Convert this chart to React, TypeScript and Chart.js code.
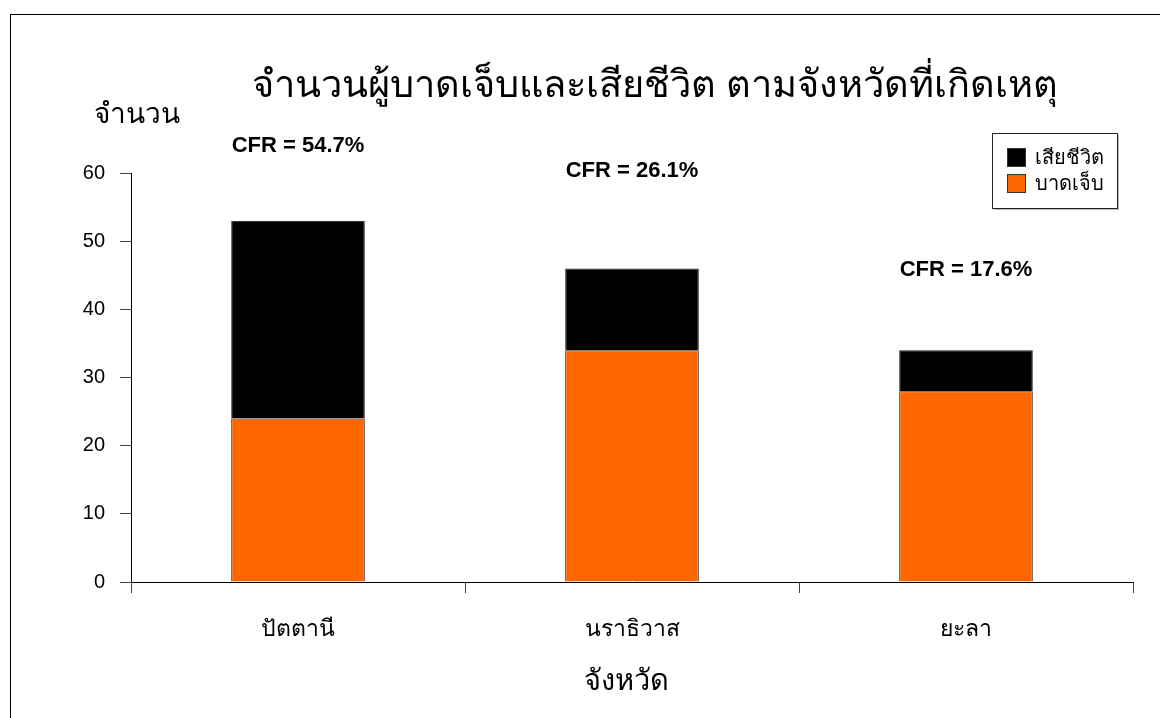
import React, { useEffect, useRef } from "react";
import { Chart, registerables } from "chart.js";

Chart.register(...registerables);

const categories = ["ปัตตานี", "นราธิวาส", "ยะลา"];
const injured = [24, 34, 28];
const deaths = [29, 12, 6];
const cfrLabelAt = [64, 60.3, 45.8];
const yTicks = [0, 10, 20, 30, 40, 50, 60];

const titleText = "จำนวนผู้บาดเจ็บและเสียชีวิต ตามจังหวัดที่เกิดเหตุ";
const yTitleText = "จำนวน";
const xTitleText = "จังหวัด";

const FONT = "'Liberation Sans', Arial, 'Noto Sans', 'DejaVu Sans', sans-serif";

const decorPlugin = {
  id: "decor",
  afterDraw(chart: any) {
    const ctx = chart.ctx;
    const xs = chart.scales.x;
    const ys = chart.scales.y;
    ctx.save();
    // outer frame
    ctx.strokeStyle = "#000";
    ctx.lineWidth = 1;
    ctx.strokeRect(10.5, 14.5, 1300, 900);
    // title
    ctx.fillStyle = "#000";
    ctx.textAlign = "center";
    ctx.textBaseline = "alphabetic";
    ctx.font = `38px ${FONT}`;
    ctx.fillText(titleText, 655, 97);
    // y title
    ctx.textAlign = "left";
    ctx.font = `28px ${FONT}`;
    ctx.fillText(yTitleText, 94, 123);
    // x title
    ctx.textAlign = "center";
    ctx.font = `29px ${FONT}`;
    ctx.fillText(xTitleText, 626, 690);
    // CFR labels
    ctx.font = `bold 22px ${FONT}`;
    ctx.textBaseline = "middle";
    categories.forEach((c, i) => {
      const total = injured[i] + deaths[i];
      const cfr = ((deaths[i] / total) * 100).toFixed(1);
      const x = xs.getPixelForValue(i);
      const y = ys.getPixelForValue(cfrLabelAt[i]);
      ctx.fillText(`CFR = ${cfr}%`, x, y);
    });
    // legend
    const lx = 992, ly = 133, lw = 125, lh = 75;
    ctx.fillStyle = "#bbb";
    ctx.fillRect(lx + 2, ly + 2, lw, lh);
    ctx.fillStyle = "#fff";
    ctx.fillRect(lx, ly, lw, lh);
    ctx.strokeStyle = "#222";
    ctx.strokeRect(lx + 0.5, ly + 0.5, lw, lh);
    const items = [chart.data.datasets[1], chart.data.datasets[0]];
    ctx.textAlign = "left";
    ctx.textBaseline = "middle";
    ctx.font = `20px ${FONT}`;
    items.forEach((ds: any, i: number) => {
      const sy = 148 + i * 26;
      ctx.fillStyle = ds.backgroundColor;
      ctx.fillRect(1007, sy, 19, 19);
      ctx.strokeStyle = "#333";
      ctx.strokeRect(1007.5, sy + 0.5, 18, 18);
      ctx.fillStyle = "#000";
      ctx.fillText(ds.label, 1035, sy + 10);
    });
    ctx.restore();
  },
};

export default function App() {
  const ref = useRef<HTMLCanvasElement | null>(null);
  useEffect(() => {
    if (!ref.current) return;
    const chart = new Chart(ref.current, {
      type: "bar",
      data: {
        labels: categories,
        datasets: [
          {
            label: "บาดเจ็บ",
            data: injured,
            backgroundColor: "#FF6600",
            borderColor: "#222",
            borderWidth: 1,
            barPercentage: 0.8,
            categoryPercentage: 0.5,
          },
          {
            label: "เสียชีวิต",
            data: deaths,
            backgroundColor: "#000000",
            borderColor: "#222",
            borderWidth: 1,
            barPercentage: 0.8,
            categoryPercentage: 0.5,
          },
        ],
      },
      options: {
        responsive: false,
        animation: false,
        devicePixelRatio: 1,
        layout: { padding: { left: 0, right: 27, top: 173, bottom: 0 } },
        plugins: {
          legend: { display: false },
          title: { display: false },
          tooltip: { enabled: false },
        },
        scales: {
          x: {
            stacked: true,
            offset: true,
            grid: {
              offset: true,
              drawOnChartArea: false,
              drawTicks: true,
              tickLength: 11,
              color: "#444",
            },
            border: { display: true, color: "#000", width: 1 },
            ticks: {
              color: "#000",
              font: { family: FONT, size: 23 },
              padding: 23,
            },
            afterFit(scale: any) {
              scale.height = 718 - 582;
            },
          },
          y: {
            stacked: true,
            min: 0,
            max: 60,
            afterBuildTicks(scale: any) {
              scale.ticks = yTicks.map((v) => ({ value: v }));
            },
            grid: {
              drawOnChartArea: false,
              drawTicks: true,
              tickLength: 11,
              color: "#444",
            },
            border: { display: true, color: "#000", width: 1 },
            ticks: {
              color: "#000",
              font: { family: FONT, size: 20 },
              padding: 15,
            },
            afterFit(scale: any) {
              scale.width = 131;
            },
          },
        },
      },
      plugins: [decorPlugin],
    });
    return () => chart.destroy();
  }, []);
  return (
    <div style={{ position: "absolute", left: 0, top: 0, width: 1160, height: 718, background: "#fff" }}>
      <canvas ref={ref} width={1160} height={718} style={{ display: "block" }} />
    </div>
  );
}
